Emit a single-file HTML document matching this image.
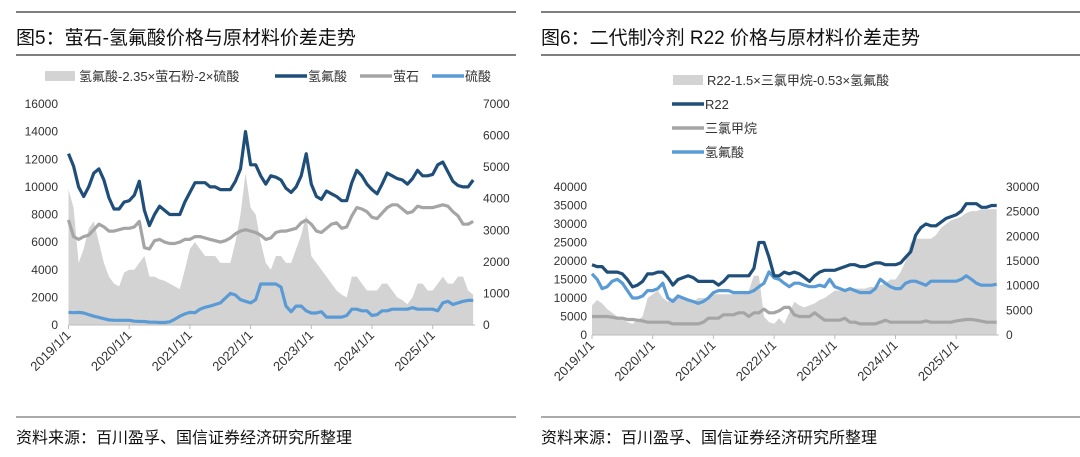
<!DOCTYPE html>
<html><head><meta charset="utf-8"><style>
body{margin:0;background:#fff;width:1080px;height:452px;overflow:hidden;font-family:"Liberation Sans","Noto Sans CJK SC",sans-serif}
svg text{font-family:"Liberation Sans","Noto Sans CJK SC",sans-serif;fill:#333}
</style></head><body>
<svg id="s" width="1080" height="452">
<line x1="16" y1="12" x2="516" y2="12" stroke="#555" stroke-width="1.5"/>
<line x1="16" y1="55" x2="516" y2="55" stroke="#555" stroke-width="1.5"/>
<line x1="16" y1="417" x2="516" y2="417" stroke="#555" stroke-width="1"/>
<line x1="541" y1="12" x2="1080" y2="12" stroke="#555" stroke-width="1.5"/>
<line x1="541" y1="55" x2="1080" y2="55" stroke="#555" stroke-width="1.5"/>
<line x1="541" y1="417" x2="1080" y2="417" stroke="#555" stroke-width="1"/>
<text x="16" y="44" font-size="19" style="fill:#111">图5：萤石-氢氟酸价格与原材料价差走势</text>
<text x="541" y="44" font-size="19" style="fill:#111">图6：二代制冷剂 R22 价格与原材料价差走势</text>
<text x="16" y="443" font-size="16" style="fill:#111">资料来源：百川盈孚、国信证券经济研究所整理</text>
<text x="541" y="443" font-size="16" style="fill:#111">资料来源：百川盈孚、国信证券经济研究所整理</text>
<g id="L"></g>
<g id="R"></g>
</svg>
<script>
// ---- Chart 1 data (monthly from 2019-01) ----
const years = ["2019/1/1","2020/1/1","2021/1/1","2022/1/1","2023/1/1","2024/1/1","2025/1/1"];
const leftTicks1 = [0,2000,4000,6000,8000,10000,12000,14000,16000];
const rightTicks1 = [0,1000,2000,3000,4000,5000,6000,7000];
const hf1 = [12400,11500,10000,9300,10000,11000,11300,10500,9200,8400,8400,8900,
 9000,9400,10400,8300,7200,8000,8600,8300,8000,8000,8000,8900,
 9600,10300,10300,10300,10000,10000,9800,9800,9800,10400,11300,14000,
 11600,11600,10800,10200,10800,10700,10500,9900,9600,10000,10800,12400,
 10200,9300,9100,9700,9500,9300,9000,9000,10300,11200,10800,10200,
 9800,9500,10200,11000,10800,10600,10500,10200,10600,11200,10800,10800,
 10900,11600,11800,11100,10400,10100,10000,10000,10500];
const fluorite1 = [7600,6400,6200,6400,6500,6900,7300,7100,6800,6800,6900,7000,
 7000,7100,7500,5600,5500,6100,6200,6000,5900,5900,6000,6200,
 6200,6400,6400,6300,6200,6100,6000,6100,6300,6600,6800,6900,
 6800,6700,6500,6200,6300,6700,6800,6800,6900,7000,7400,7600,
 7300,6800,6700,7000,7300,7400,7000,7100,7900,8500,8400,8200,
 7800,7700,8100,8500,8700,8700,8400,8100,8200,8600,8500,8500,
 8500,8600,8700,8600,8200,7900,7300,7300,7500];
const sulfuric1 = [400,390,400,380,330,280,240,200,160,150,150,150,
 150,120,110,110,90,90,80,80,100,180,280,350,
 400,390,500,560,600,650,700,850,1000,950,800,750,
 700,800,1300,1300,1300,1300,1200,600,420,600,600,450,
 380,380,420,250,250,250,250,300,500,500,450,450,
 300,330,450,450,500,500,500,500,550,500,500,500,
 500,450,700,750,650,700,750,780,780];
const spread1 = [9800,8500,4500,5500,7000,7500,6000,4500,3500,3000,2800,3800,
 4000,4000,4500,5000,3500,3500,3300,3200,3000,2800,2600,4000,
 5500,6000,5500,5000,5000,5000,4500,4500,4500,6000,8000,11000,
 8500,8000,6000,4500,4000,5000,5000,4500,4500,5500,6500,8000,
 5000,4500,4000,3500,3000,2500,2200,2000,3500,3500,3000,2500,
 2500,2500,3000,3000,2500,2000,1800,1500,2000,3000,3000,2500,
 2500,3000,3500,3000,3000,3500,3500,2500,2200];
// ---- Chart 2 data ----
const leftTicks2 = [0,5000,10000,15000,20000,25000,30000,35000,40000];
const rightTicks2 = [0,5000,10000,15000,20000,25000,30000];
const r22 = [19000,18500,18500,17000,17000,17000,16500,15000,13000,13500,14500,16500,
 16500,17000,17000,15500,13500,15000,15500,16000,15500,14500,14500,14500,
 14500,13500,14500,16000,16000,16000,16000,16000,18000,25000,25000,21000,
 16000,16000,17000,16500,17000,16500,15500,14500,16000,17000,17500,17500,
 17500,18000,18500,19000,19000,18500,18500,19000,19500,19500,19000,19000,
 19000,19500,21000,22500,27000,29000,30000,29500,29500,30500,31500,32000,
 32500,33500,35500,35500,35500,34500,34500,35000,35000];
const chcl3 = [3750,3750,3750,3750,3600,3400,3400,3150,3150,3000,2850,2600,
 2600,2600,2600,2600,2250,2250,2250,2250,2250,2250,2600,3400,
 3400,3400,4100,4100,4100,4500,4500,3750,4500,4500,5250,4500,
 4500,4900,5600,5600,4100,3750,3750,3750,4500,3750,3000,3000,
 3000,3000,3400,2600,2600,2250,2250,2250,2250,2600,3000,2600,
 2600,2600,2600,2600,2600,2600,2850,2600,2600,2600,2600,2600,
 2850,3000,3150,3150,3000,2800,2600,2600,2600];
const hf2 = [12400,11300,9400,9800,10900,11300,10500,9000,7500,7500,7900,9000,
 9000,9400,10500,7500,6800,7900,7500,7100,6800,6400,6800,7500,
 8600,9000,9000,9000,8600,8600,8600,8600,9000,9800,10500,12800,
 11600,11300,10500,9800,10500,10500,10100,9800,9800,10100,9800,11300,
 9800,9400,9000,9400,9000,8600,8600,8600,9400,11300,10500,9800,
 9400,9400,10500,10900,10900,10500,10100,10900,10900,10900,10900,10900,
 10900,11300,12000,11300,10500,10100,10100,10100,10300];
const spread2 = [6000,7100,6400,5250,4500,3750,3400,2600,2250,3000,3750,7500,
 8250,9000,7500,6750,7500,7900,7500,7100,6750,7500,7500,7500,
 8250,8250,8250,8250,8250,8250,8250,9000,12000,12000,3750,2600,
 2250,3400,2250,4500,6750,6000,5600,6000,6400,7100,7500,8250,
 9000,9000,9000,9400,9400,9400,9400,9750,9750,10100,10500,11250,
 11250,12750,15000,18750,19500,19500,19500,19500,20250,21750,22500,23250,
 23600,24000,24750,25100,25100,25500,25500,25500,25500];

const NS="http://www.w3.org/2000/svg";
function mk(parent,tag,attrs){const e=document.createElementNS(NS,tag);for(const k in attrs)e.setAttribute(k,attrs[k]);parent.appendChild(e);return e;}

function chart(g,cfg){
  const xOf=i=>cfg.x0+i*cfg.pxYear/12;
  const yL=v=>cfg.yb-(v/cfg.lMax)*(cfg.yb-cfg.yt);
  const yR=v=>cfg.yb-(v/cfg.rMax)*(cfg.yb-cfg.yt);
  const a=cfg.area;const ay=cfg.areaAxis==='R'?yR:yL;
  let d=`M${xOf(0)},${cfg.yb}`;a.forEach((v,i)=>{d+=`L${xOf(i)},${ay(v)}`});d+=`L${xOf(a.length-1)},${cfg.yb}Z`;
  const ar=mk(g,'path',{d,fill:'#d3d3d3'});
  
  
  const ax=mk(g,'line',{x1:cfg.x0,y1:cfg.yb,x2:xOf(cfg.area.length-1)+2,y2:cfg.yb,stroke:'#bbb'});
  
  
  years.forEach((yl,k)=>{
    const x=cfg.x0+k*cfg.pxYear;
    const t=mk(g,'line',{x1:x,y1:cfg.yb,x2:x,y2:cfg.yb+4,stroke:'#bbb'});
    
    
    const tx=mk(g,'text',{x:x+3,y:cfg.yb+11,'font-size':13,'text-anchor':'end',transform:`rotate(-45 ${x+3} ${cfg.yb+11})`});
    tx.textContent=yl;
    
    
  });
  cfg.lt.forEach(v=>{const t=mk(g,'text',{x:cfg.lx,y:yL(v)+4,'font-size':12,'text-anchor':'end'});t.textContent=v;
    
    });
  cfg.rt.forEach(v=>{const t=mk(g,'text',{x:cfg.rx,y:yR(v)+4,'font-size':12,'text-anchor':'start'});t.textContent=v;
    
    });
  cfg.lines.forEach(s=>{
    const f=s.axis==='R'?yR:yL;
    const p=mk(g,'polyline',{points:s.data.map((v,i)=>`${xOf(i).toFixed(1)},${f(v).toFixed(1)}`).join(' '),fill:'none',stroke:s.color,'stroke-width':3.2,'stroke-linejoin':'round'});
    
    
  });
}
chart(document.getElementById('L'),{x0:68.5,pxYear:60.7,yb:325,yt:104,lMax:16000,rMax:7000,lx:58,rx:483,lt:leftTicks1,rt:rightTicks1,
  area:spread1,areaAxis:'L',
  lines:[{data:fluorite1,color:'#a5a5a5',axis:'L',name:'fluorite-line'},{data:hf1,color:'#1f4e79',axis:'L',name:'hf-line'},{data:sulfuric1,color:'#5b9bd5',axis:'R',name:'sulfuric-line'}]});
chart(document.getElementById('R'),{x0:592,pxYear:60.7,yb:335,yt:187,lMax:40000,rMax:30000,lx:587,rx:1006,lt:leftTicks2,rt:rightTicks2,
  area:spread2,areaAxis:'R',
  lines:[{data:chcl3,color:'#a5a5a5',axis:'R',name:'chcl3-line'},{data:hf2,color:'#5b9bd5',axis:'R',name:'hf-line-r'},{data:r22,color:'#1f4e79',axis:'L',name:'r22-line'}]});

const s=document.getElementById('s');
function leg(x,y,type,color,label,name){
  const g=mk(s,'g',{});
  
  
  if(type==='area')mk(g,'rect',{x:x,y:y-5,width:30,height:10,fill:'#d3d3d3'});
  else mk(g,'line',{x1:x,y1:y,x2:x+32,y2:y,stroke:color,'stroke-width':3.5});
  const t=mk(g,'text',{x:x+(type==='area'?34:33),y:y+5,'font-size':13});t.textContent=label;
}
leg(45,76,'area','','氢氟酸-2.35×萤石粉-2×硫酸','legend-spread');
leg(275,76,'line','#1f4e79','氢氟酸','legend-hf');
leg(360,76,'line','#a5a5a5','萤石','legend-fluorite');
leg(432,76,'line','#5b9bd5','硫酸','legend-sulfuric');
leg(673,80,'area','','R22-1.5×三氯甲烷-0.53×氢氟酸','legend-spread-r22');
leg(672,104,'line','#1f4e79','R22','legend-r22');
leg(672,128,'line','#a5a5a5','三氯甲烷','legend-chcl3');
leg(672,152,'line','#5b9bd5','氢氟酸','legend-hf-r');
</script>
</body></html>
